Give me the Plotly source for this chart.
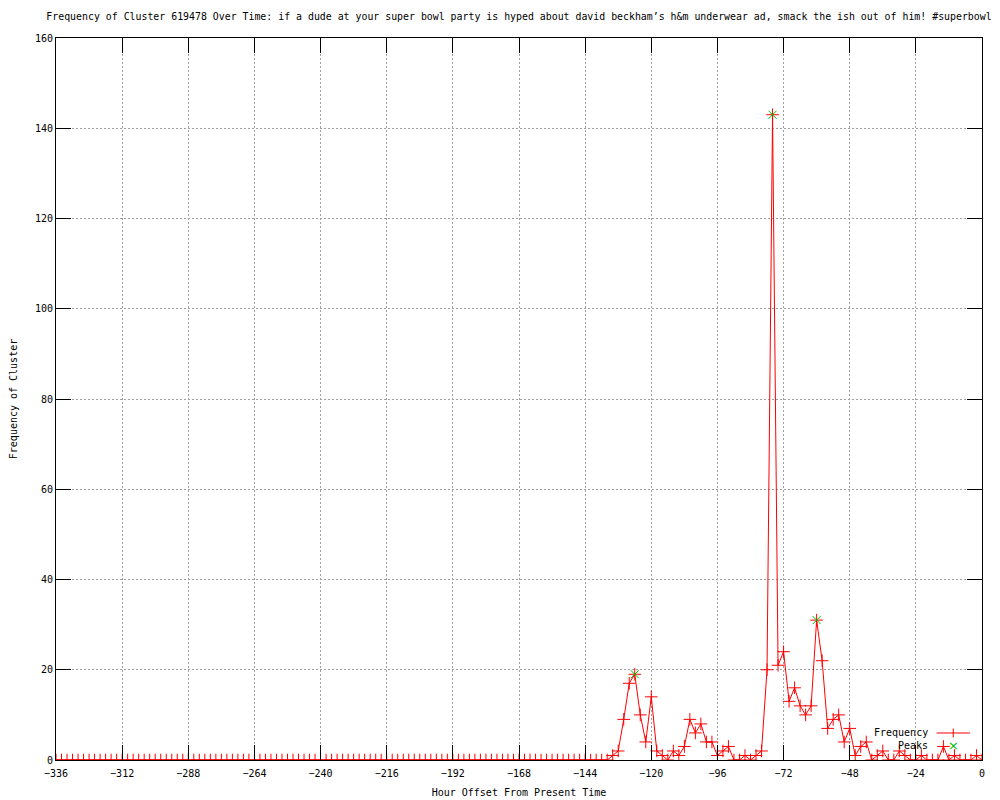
"""Gnuplot-style cluster frequency timeline rebuilt with plotly."""

import plotly.graph_objects as go

# hour offsets, one bin every two hours
hours = list(range(-336, 1, 2))

frequency = [
    # -336 .. -238
    0, 0, 0, 0, 0, 0, 0, 0, 0, 0, 0, 0, 0, 0, 0, 0, 0, 0, 0, 0,
    0, 0, 0, 0, 0, 0, 0, 0, 0, 0, 0, 0, 0, 0, 0, 0, 0, 0, 0, 0,
    0, 0, 0, 0, 0, 0, 0, 0, 0, 0,
    # -236 .. -136
    0, 0, 0, 0, 0, 0, 0, 0, 0, 0, 0, 0, 0, 0, 0, 0, 0, 0, 0, 0,
    0, 0, 0, 0, 0, 0, 0, 0, 0, 0, 0, 0, 0, 0, 0, 0, 0, 0, 0, 0,
    0, 0, 0, 0, 0, 0, 0, 0, 0, 0, 0,
    # -134 .. -80
    1, 2, 9, 17, 19, 10, 4, 14, 2, 1, 0, 2, 1, 3, 9, 6, 8, 4, 4, 1,
    2, 3, 0, 0, 1, 0, 1, 2,
    # -78 .. -40
    20, 143, 21, 24, 13, 16, 12, 10, 12, 31, 22, 7, 9, 10, 4, 7, 1, 3, 4, 0,
    # -38 .. 0
    1, 2, 0, 0, 2, 1, 0, 0, 1, 0, 0, 0, 3, 0, 1, 0, 0, 0, 1, 0,
]

peak_hours = [-126, -76, -60]
peak_values = [19, 143, 31]

TITLE = ("Frequency of Cluster 619478 Over Time: if a dude at your super bowl party "
         "is hyped about david beckham\u2019s h&m underwear ad, smack the ish out of him! #superbowl")

FONT = dict(family="DejaVu Sans Mono", size=10, color="black")
RED = "#ff0000"
GREEN = "#00c000"

fig = go.Figure()

fig.add_trace(go.Scatter(
    x=hours,
    y=frequency,
    mode="lines+markers",
    name="Frequency",
    line=dict(color=RED, width=1),
    marker=dict(symbol="cross-thin", size=9, line=dict(color=RED, width=1)),
))

fig.add_trace(go.Scatter(
    x=peak_hours,
    y=peak_values,
    mode="markers",
    name="Peaks",
    marker=dict(symbol="x-thin", size=8, line=dict(color=GREEN, width=1)),
))

axis_common = dict(
    showline=True,
    linecolor="black",
    linewidth=1,
    mirror="ticks",
    ticks="inside",
    ticklen=15,
    tickwidth=1,
    tickcolor="black",
    showgrid=True,
    gridcolor="#a0a0a0",
    gridwidth=1,
    griddash="2px,2px",
    zeroline=False,
    automargin=False,
    tickfont=FONT,
)

fig.update_xaxes(
    range=[-336, 0],
    tick0=-336,
    dtick=24,
    ticklabelstandoff=4,
    title=dict(text="Hour Offset From Present Time", font=FONT, standoff=10),
    **axis_common,
)
fig.update_yaxes(
    range=[0, 160],
    tick0=0,
    dtick=20,
    title=dict(text="Frequency of Cluster", font=FONT, standoff=15),
    **axis_common,
)

# gnuplot-like key in the lower right corner: label first, sample after it
key_rows = [("Frequency", 0.0374), ("Peaks", 0.0194)]
for label, ky in key_rows:
    fig.add_annotation(
        xref="paper", yref="paper", x=0.944, y=ky,
        text=label, showarrow=False, xanchor="right", yanchor="middle", font=FONT,
    )

fig.add_shape(type="line", xref="paper", yref="paper",
              x0=0.951, x1=0.987, y0=0.0374, y1=0.0374, line=dict(color=RED, width=1))
fig.add_shape(type="line", xref="paper", yref="paper",
              x0=0.969, x1=0.969, y0=0.0312, y1=0.0436, line=dict(color=RED, width=1))
fig.add_annotation(
    xref="paper", yref="paper", x=0.969, y=0.0194,
    text="\u00d7", showarrow=False, xanchor="center", yanchor="middle",
    font=dict(family="DejaVu Sans", size=13, color=GREEN),
)

fig.update_layout(
    width=1000,
    height=800,
    title=dict(text=TITLE, font=dict(FONT, size=9.9), x=0.511, xanchor="center",
               y=0.989, yanchor="middle"),
    margin=dict(l=48, r=26, t=30, b=48),
    paper_bgcolor="white",
    plot_bgcolor="white",
    showlegend=False,
)

fig.write_html("out.html")
